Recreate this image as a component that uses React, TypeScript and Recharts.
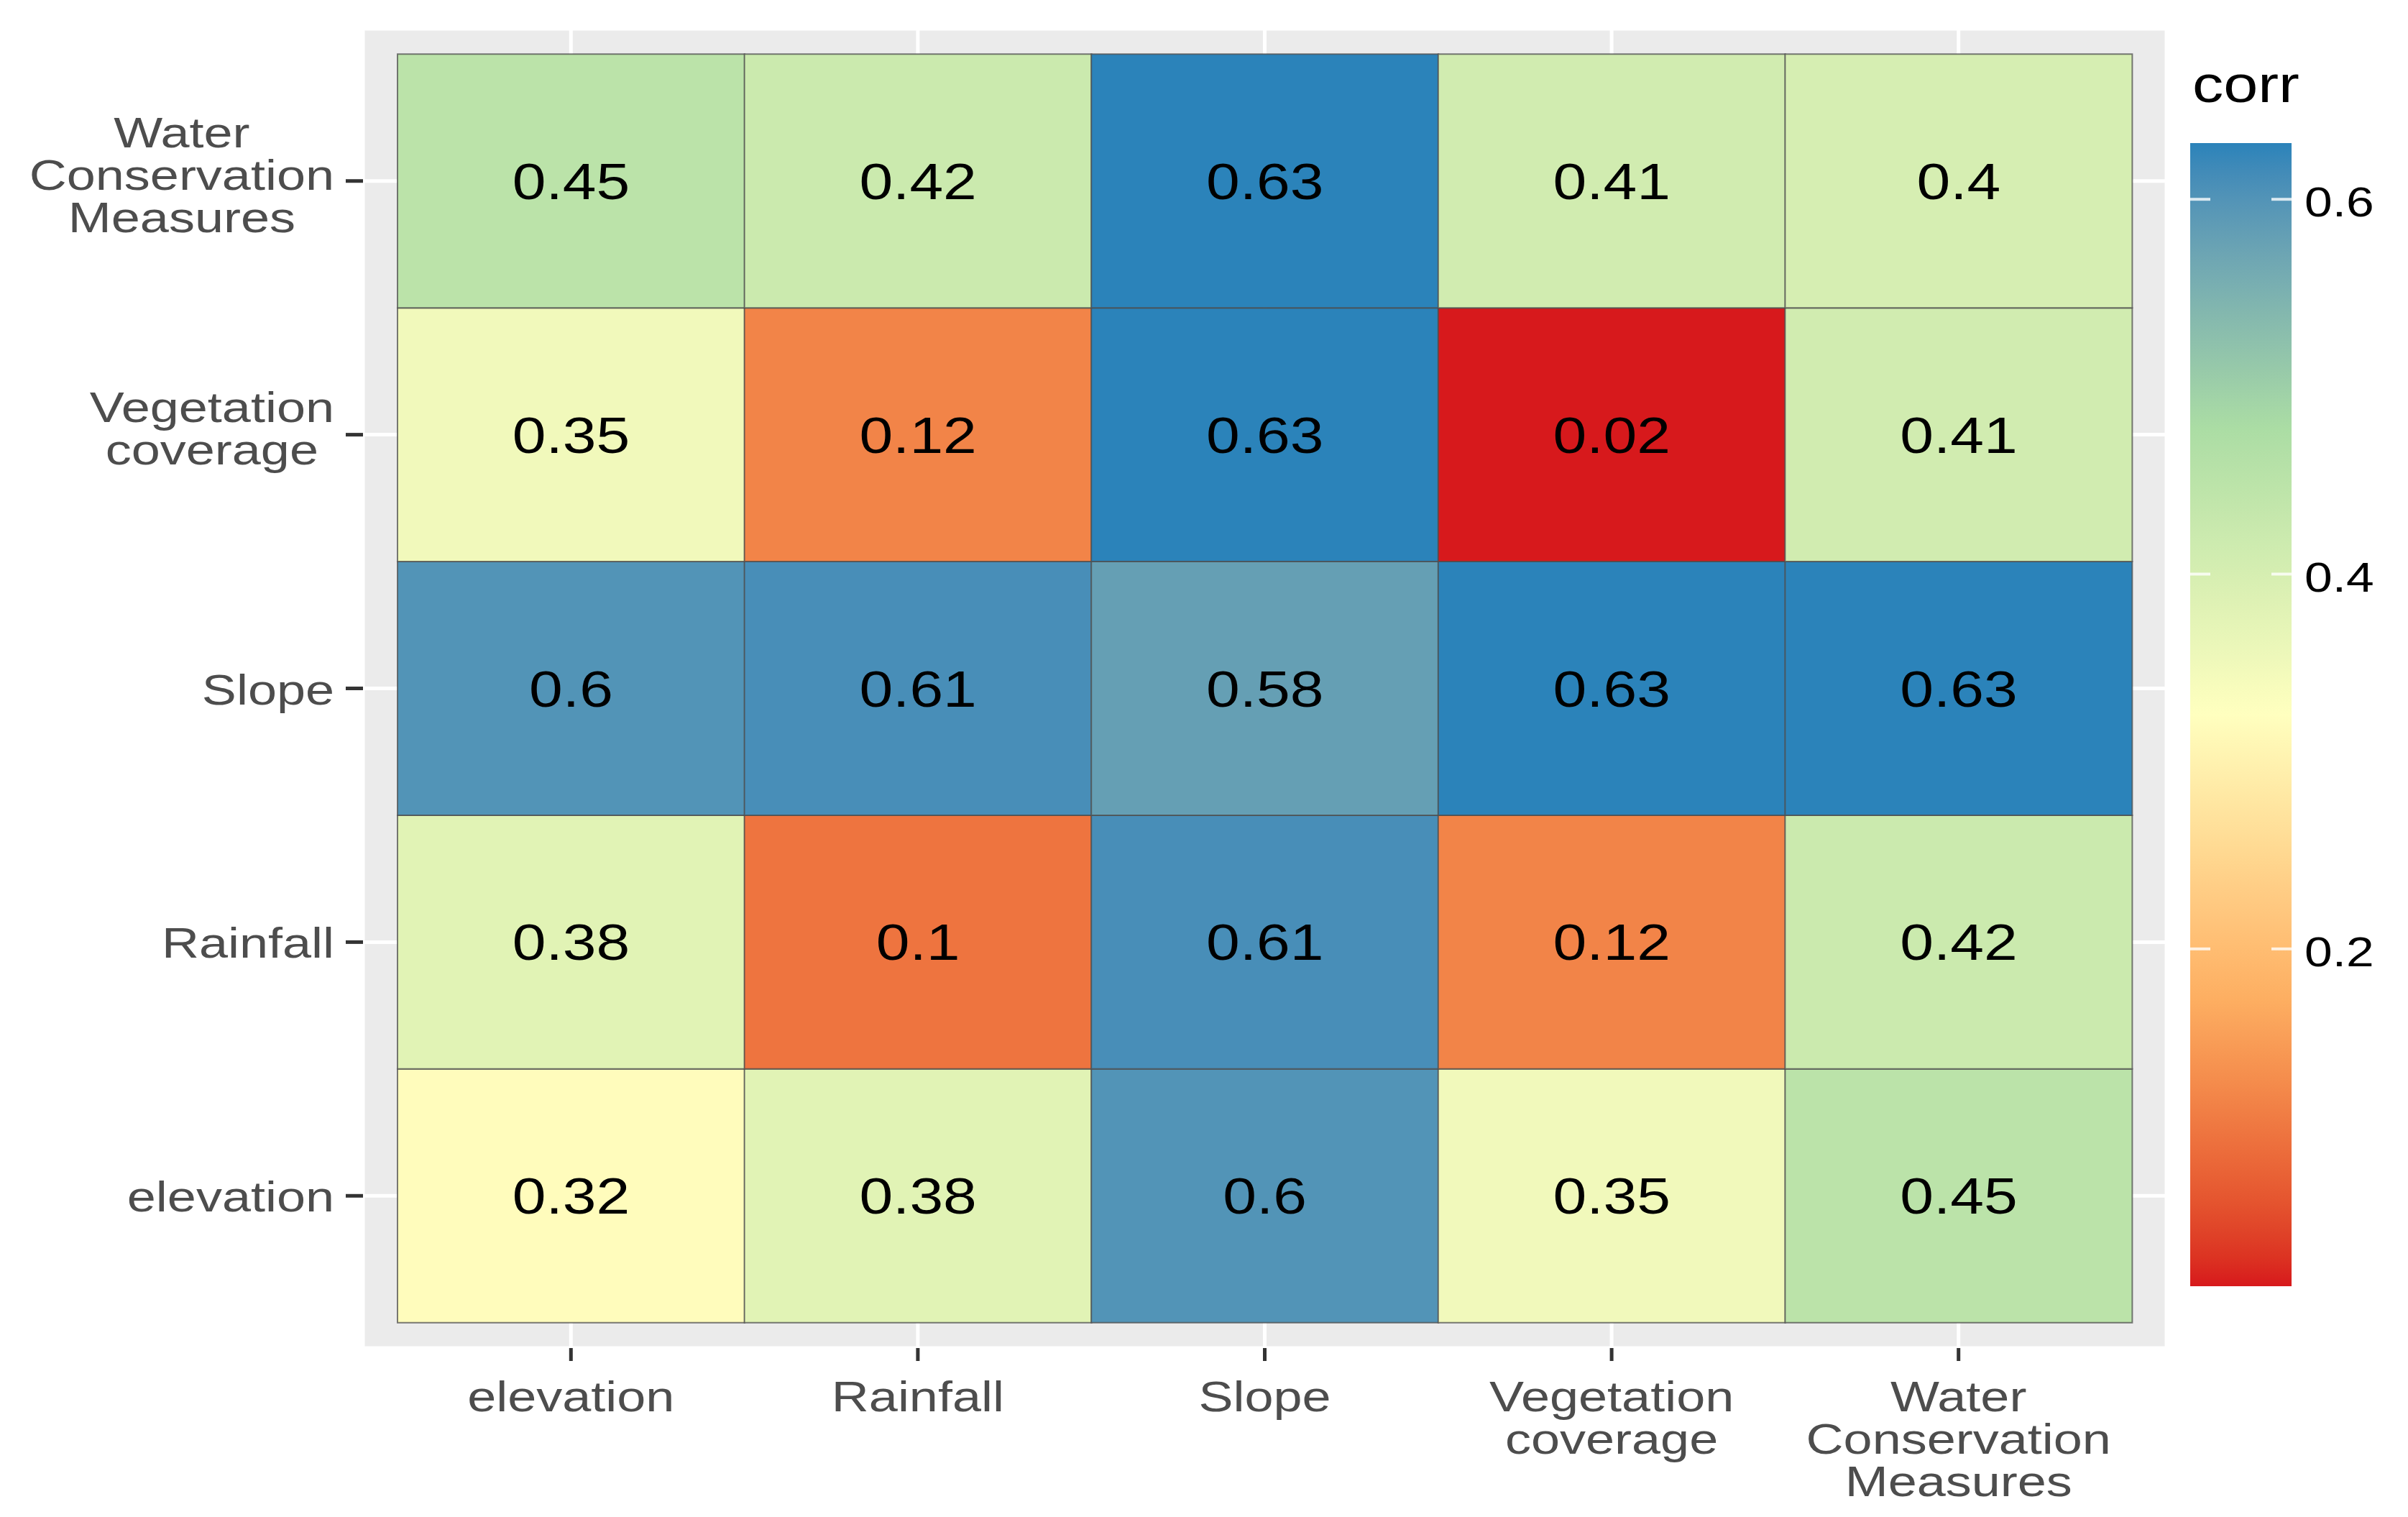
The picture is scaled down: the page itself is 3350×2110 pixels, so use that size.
import React from 'react';
import { BarChart, Bar, XAxis, YAxis, CartesianGrid, Cell, LabelList } from 'recharts';

// ---------- data ----------
const xCategories = ['elevation', 'Rainfall', 'Slope', 'Vegetation coverage', 'Water Conservation Measures'];
const yCategories = ['elevation', 'Rainfall', 'Slope', 'Vegetation coverage', 'Water Conservation Measures'];
const xTickLabels = ['elevation', 'Rainfall', 'Slope', 'Vegetation\ncoverage', 'Water\nConservation\nMeasures'];
const yTickLabels = ['elevation', 'Rainfall', 'Slope', 'Vegetation\ncoverage', 'Water\nConservation\nMeasures'];

// correlation of each y-row (bottom to top) across the x categories
const corrElevation = [0.32, 0.38, 0.6, 0.35, 0.45];
const corrRainfall = [0.38, 0.1, 0.61, 0.12, 0.42];
const corrSlope = [0.6, 0.61, 0.58, 0.63, 0.63];
const corrVegetation = [0.35, 0.12, 0.63, 0.02, 0.41];
const corrWater = [0.45, 0.42, 0.63, 0.41, 0.4];
const corrRows = [corrElevation, corrRainfall, corrSlope, corrVegetation, corrWater];

const legendTicks = [0.2, 0.4, 0.6];
const legendTitle = 'corr';
const palette = ['#D7191C', '#FDAE61', '#FFFFBF', '#ABDDA4', '#2B83BA'];

// each tile occupies one category slot on the y axis
const tileSpan = 1;

// ---------- colour scale (Lab interpolation like ggplot's gradientn) ----------
const allVals = corrRows.flat();
const vMin = Math.min(...allVals);
const vMax = Math.max(...allVals);

function hexToRgb(h: string) {
  const n = parseInt(h.slice(1), 16);
  return [(n >> 16) & 255, (n >> 8) & 255, n & 255];
}
function toLin(c: number) {
  c /= 255;
  return c <= 0.04045 ? c / 12.92 : Math.pow((c + 0.055) / 1.055, 2.4);
}
function fromLin(c: number) {
  const v = c <= 0.0031308 ? 12.92 * c : 1.055 * Math.pow(c, 1 / 2.4) - 0.055;
  return Math.max(0, Math.min(255, Math.round(v * 255)));
}
const Xn = 0.95047, Yn = 1, Zn = 1.08883;
function f(t: number) {
  return t > 0.008856 ? Math.cbrt(t) : 7.787 * t + 16 / 116;
}
function finv(t: number) {
  const t3 = t * t * t;
  return t3 > 0.008856 ? t3 : (t - 16 / 116) / 7.787;
}
function hexToLab(h: string) {
  const [R, G, B] = hexToRgb(h).map(toLin);
  const X = 0.4124564 * R + 0.3575761 * G + 0.1804375 * B;
  const Y = 0.2126729 * R + 0.7151522 * G + 0.072175 * B;
  const Z = 0.0193339 * R + 0.119192 * G + 0.9503041 * B;
  const fx = f(X / Xn), fy = f(Y / Yn), fz = f(Z / Zn);
  return [116 * fy - 16, 500 * (fx - fy), 200 * (fy - fz)];
}
function labToHex(L: number, a: number, b: number) {
  const fy = (L + 16) / 116;
  const fx = fy + a / 500;
  const fz = fy - b / 200;
  const X = finv(fx) * Xn, Y = finv(fy) * Yn, Z = finv(fz) * Zn;
  const r = 3.2404542 * X - 1.5371385 * Y - 0.4985314 * Z;
  const g = -0.969266 * X + 1.8760108 * Y + 0.041556 * Z;
  const bb = 0.0556434 * X - 0.2040259 * Y + 1.0572252 * Z;
  return '#' + [r, g, bb].map(fromLin).map((v) => v.toString(16).padStart(2, '0')).join('');
}
const paletteLab = palette.map(hexToLab);
function colorFor(v: number) {
  let t = (v - vMin) / (vMax - vMin);
  t = Math.max(0, Math.min(1, t));
  const seg = t * (paletteLab.length - 1);
  const i = Math.min(paletteLab.length - 2, Math.floor(seg));
  const u = seg - i;
  const A = paletteLab[i], B = paletteLab[i + 1];
  return labToHex(A[0] + (B[0] - A[0]) * u, A[1] + (B[1] - A[1]) * u, A[2] + (B[2] - A[2]) * u);
}

// ---------- table for recharts ----------
const tableData = xCategories.map((x, i) => {
  const row: Record<string, any> = { x };
  yCategories.forEach((_, j) => {
    row['r' + j] = tileSpan;
    row['c' + j] = corrRows[j][i];
  });
  return row;
});

// ---------- layout / style ----------
const W = 3334;
const H = 2094;
const FONT = '"Liberation Sans", Arial, sans-serif';
const STRETCH = 1.2;
const AXIS_FS = 60;
const LEG_FS = 58;
const CELL_FS = 70;
const LINE_H = 59;

let measureCtx: CanvasRenderingContext2D | null = null;
function textWidth(s: string, size: number) {
  if (!measureCtx) {
    const c = document.createElement('canvas');
    measureCtx = c.getContext('2d');
  }
  if (!measureCtx) return s.length * size * 0.5;
  measureCtx.font = `${size}px ${FONT}`;
  return measureCtx.measureText(s).width;
}

const YTick = (props: any) => {
  const { x, y, payload } = props;
  const idx = Math.round(payload.value - 0.5);
  const label = yTickLabels[idx];
  if (label === undefined) return null;
  const lines = label.split('\n');
  const maxW = Math.max(...lines.map((l) => textWidth(l, AXIS_FS))) * STRETCH;
  const cx = x - maxW / 2;
  const lift = lines.length > 1 ? 10 : 0;
  const firstBase = y + 22 - lift - ((lines.length - 1) * LINE_H) / 2;
  return (
    <g>
      {lines.map((l, k) => (
        <g key={k} transform={`translate(${cx},${firstBase + k * LINE_H}) scale(${STRETCH},1)`}>
          <text x={0} y={0} textAnchor="middle" fontFamily={FONT} fontSize={AXIS_FS} fill="#4D4D4D">
            {l}
          </text>
        </g>
      ))}
    </g>
  );
};

const XTick = (props: any) => {
  const { x, y, payload } = props;
  const idx = xCategories.indexOf(payload.value);
  const label = idx >= 0 ? xTickLabels[idx] : String(payload.value);
  const lines = label.split('\n');
  const firstBase = y + 70;
  return (
    <g>
      {lines.map((l, k) => (
        <g key={k} transform={`translate(${x},${firstBase + k * LINE_H}) scale(${STRETCH},1)`}>
          <text x={0} y={0} textAnchor="middle" fontFamily={FONT} fontSize={AXIS_FS} fill="#4D4D4D">
            {l}
          </text>
        </g>
      ))}
    </g>
  );
};

const CellLabel = (props: any) => {
  const vb = props.viewBox || {};
  const x = props.x ?? vb.x;
  const y = props.y ?? vb.y;
  const width = props.width ?? vb.width;
  const height = props.height ?? vb.height;
  const value = props.value;
  if (x === undefined || value === undefined || value === null) return null;
  const cx = x + width / 2;
  const cy = y + height / 2;
  return (
    <g transform={`translate(${cx},${cy + 25}) scale(${STRETCH},1)`}>
      <text x={0} y={0} textAnchor="middle" fontFamily={FONT} fontSize={CELL_FS} fill="#000000">
        {String(value)}
      </text>
    </g>
  );
};

// legend geometry
const LEG_X = 3039;
const LEG_W = 141;
const LEG_TOP = 191;
const LEG_H = 1590;
const legY = (v: number) => LEG_TOP + ((vMax - v) / (vMax - vMin)) * LEG_H;
const gradStops = Array.from({ length: 41 }, (_, k) => k / 40);

const Legend = () => (
  <svg width={W} height={H} style={{ position: 'absolute', left: 0, top: 0, pointerEvents: 'none' }}>
    <defs>
      <linearGradient id="corrGrad" x1="0" y1="1" x2="0" y2="0">
        {gradStops.map((t) => (
          <stop key={t} offset={t} stopColor={colorFor(vMin + t * (vMax - vMin))} />
        ))}
      </linearGradient>
    </defs>
    <g transform={`translate(${LEG_X + 3},134) scale(${STRETCH},1)`}>
      <text x={0} y={0} fontFamily={FONT} fontSize={72} fill="#000000">
        {legendTitle}
      </text>
    </g>
    <rect x={LEG_X} y={LEG_TOP} width={LEG_W} height={LEG_H} fill="url(#corrGrad)" />
    {legendTicks.map((v) => (
      <g key={v}>
        <line x1={LEG_X} x2={LEG_X + 28} y1={legY(v)} y2={legY(v)} stroke="#FFFFFF" strokeOpacity={0.8} strokeWidth={4} />
        <line x1={LEG_X + LEG_W - 28} x2={LEG_X + LEG_W} y1={legY(v)} y2={legY(v)} stroke="#FFFFFF" strokeOpacity={0.8} strokeWidth={4} />
        <g transform={`translate(${LEG_X + LEG_W + 18},${legY(v) + 24}) scale(${STRETCH},1)`}>
          <text x={0} y={0} fontFamily={FONT} fontSize={LEG_FS} fill="#000000">
            {String(v)}
          </text>
        </g>
      </g>
    ))}
  </svg>
);

export default function App() {
  return (
    <div style={{ position: 'relative', width: W, height: H, background: '#FFFFFF' }}>
      <BarChart
        width={W}
        height={H}
        data={tableData}
        margin={{ top: 32, right: 328, bottom: 27, left: 17 }}
        barCategoryGap={0}
        barGap={0}
      >
        <CartesianGrid fill="#EBEBEB" stroke="#FFFFFF" strokeWidth={5} />
        <XAxis
          dataKey="x"
          type="category"
          interval={0}
          padding={{ left: 48, right: 48 }}
          height={200}
          axisLine={false}
          tickSize={18}
          tickMargin={0}
          tickLine={{ stroke: '#333333', strokeWidth: 5 }}
          tick={(p: any) => <XTick {...p} />}
        />
        <YAxis
          type="number"
          domain={[-0.1, 5.1]}
          allowDataOverflow
          ticks={[0.5, 1.5, 2.5, 3.5, 4.5]}
          width={480}
          axisLine={false}
          tickSize={24}
          tickMargin={16}
          tickLine={{ stroke: '#333333', strokeWidth: 5 }}
          tick={(p: any) => <YTick {...p} />}
        />
        {yCategories.map((name, j) => (
          <Bar
            key={name}
            name={name}
            dataKey={'r' + j}
            stackId="tiles"
            isAnimationActive={false}
            stroke="#4D4D4D"
            strokeOpacity={0.75}
            strokeWidth={2}
          >
            {tableData.map((d, i) => (
              <Cell key={i} fill={colorFor(corrRows[j][i])} />
            ))}
            <LabelList dataKey={'c' + j} content={(p: any) => <CellLabel {...p} />} />
          </Bar>
        ))}
      </BarChart>
      <Legend />
    </div>
  );
}
